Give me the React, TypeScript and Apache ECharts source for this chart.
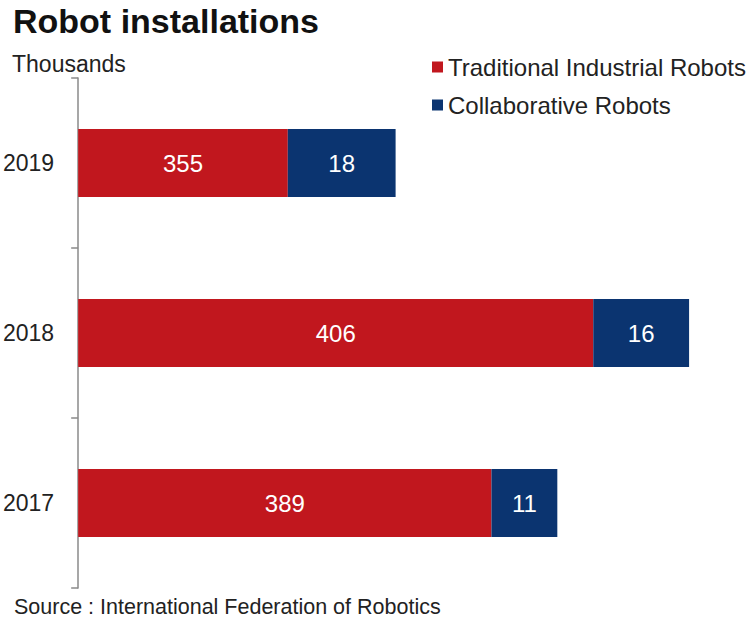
import React, { useEffect, useRef } from "react";
import * as echarts from "echarts";

const categories = ["2017", "2018", "2019"];
const traditional = [389, 406, 355];
const collaborative = [11, 16, 18];
const seriesNames = ["Traditional Industrial Robots", "Collaborative Robots"];
const titleText = "Robot installations";
const unitText = "Thousands";
const sourceText = "Source : International Federation of Robotics";

const FONT = '"Liberation Sans", Arial, Helvetica, sans-serif';
const RED = "#C1171E";
const BLUE = "#0B3470";

export default function App() {
  const ref = useRef<HTMLDivElement>(null);
  useEffect(() => {
    if (!ref.current) return;
    const chart = echarts.init(ref.current, undefined, { renderer: "svg" });
    chart.setOption({
      animation: false,
      backgroundColor: "#ffffff",
      textStyle: { fontFamily: FONT },
      title: {
        text: titleText,
        left: 13,
        top: 4,
        padding: 0,
        textStyle: { fontFamily: FONT, fontSize: 34, fontWeight: "bold", color: "#111111" },
      },
      legend: {
        orient: "vertical",
        left: 432,
        top: 54,
        padding: 0,
        itemWidth: 11,
        itemHeight: 11,
        itemGap: 12,
        icon: "rect",
        textStyle: { fontFamily: FONT, fontSize: 24, color: "#222222", lineHeight: 26 },
        data: seriesNames,
      },
      grid: { left: 77, right: 12, top: 78, bottom: 33, containLabel: false },
      xAxis: {
        type: "value",
        min: 320,
        max: 430,
        show: false,
        splitLine: { show: false },
      },
      yAxis: {
        type: "category",
        data: categories,
        axisLine: { show: true, lineStyle: { color: "#8a8a8a", width: 1.5 } },
        axisTick: { show: true, length: 7, lineStyle: { color: "#8a8a8a", width: 1.5 } },
        axisLabel: { fontFamily: FONT, fontSize: 23, color: "#222222", margin: 24 },
        splitLine: { show: false },
      },
      series: [
        {
          name: seriesNames[0],
          type: "bar",
          stack: "total",
          data: traditional,
          barWidth: 68,
          itemStyle: { color: RED },
          label: { show: true, position: "inside", color: "#ffffff", fontFamily: FONT, fontSize: 24 },
        },
        {
          name: seriesNames[1],
          type: "bar",
          stack: "total",
          data: collaborative,
          barWidth: 68,
          itemStyle: { color: BLUE },
          label: { show: true, position: "inside", color: "#ffffff", fontFamily: FONT, fontSize: 24 },
        },
      ],
      graphic: [
        {
          type: "text",
          left: 12,
          top: 52,
          style: { text: unitText, fontFamily: FONT, fontSize: 23, fill: "#222222" },
        },
        {
          type: "text",
          left: 14,
          top: 596,
          style: { text: sourceText, fontFamily: FONT, fontSize: 21.5, fill: "#222222" },
        },
      ],
    });
    return () => chart.dispose();
  }, []);
  return (
    <div
      ref={ref}
      style={{ position: "fixed", left: 0, top: 0, width: 749, height: 621 }}
    />
  );
}
